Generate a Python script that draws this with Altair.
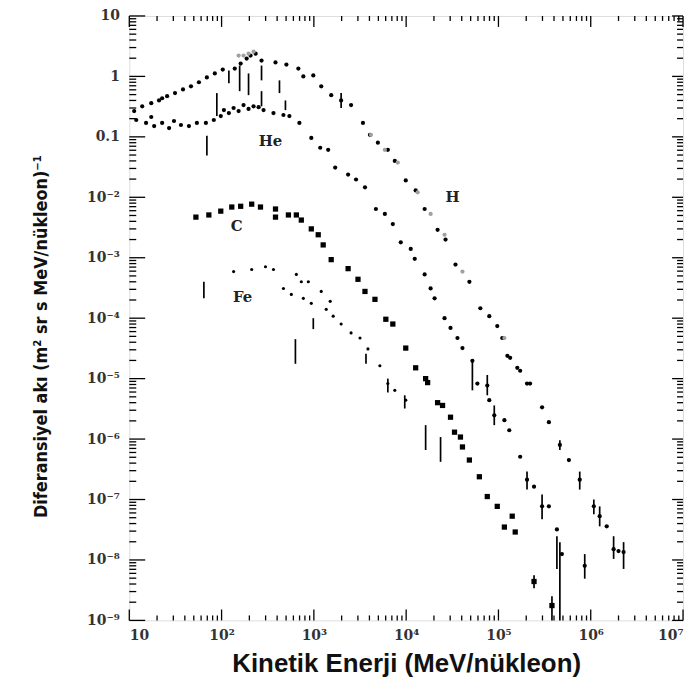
import altair as alt
import pandas as pd

# ---------------- data (energy in MeV/nucleon, flux) ----------------
h_energy = [11.3, 13.8, 17.3, 21, 22.7, 25.7, 31.3, 38.2, 46.6, 56.8, 69.3, 84.5, 103, 139, 161, 187, 206, 234,
            271, 384, 504, 679, 769, 986, 1202, 1541, 1974, 2530, 3404, 4053, 4939, 6332, 7535, 9900, 12680,
            15860, 21910, 26710, 34230, 48440, 63680, 79560, 97100, 1.10e5, 1.25e5, 1.34e5, 1.6e5, 1.72e5,
            2.04e5, 2.2e5, 2.97e5, 3.52e5, 4.63e5, 5.8e5, 7.6e5, 1.08e6, 1.25e6, 1.49e6, 1.77e6, 2.0e6, 2.27e6]
h_flux = [0.267, 0.32, 0.36, 0.40, 0.435, 0.47, 0.53, 0.61, 0.685, 0.80, 0.96, 1.12, 1.30, 1.35, 1.63, 1.97, 2.21,
          2.38, 1.83, 1.70, 1.57, 1.35, 1.0, 1.04, 0.685, 0.49, 0.40, 0.335, 0.17, 0.108, 0.080, 0.061, 0.040,
          0.019, 0.013, 0.0064, 0.0029, 0.0020, 0.00077, 0.00040, 0.000146, 0.000108, 7.4e-5, 4.7e-5, 2.38e-5,
          2.21e-5, 1.51e-5, 1.35e-5, 8.3e-6, 8.3e-6, 3.35e-6, 1.9e-6, 8.0e-7, 4.5e-7, 2.13e-7, 7.7e-8, 5.3e-8,
          3.6e-8, 1.51e-8, 1.4e-8, 1.35e-8]

h_gray_energy = [153, 173, 196, 222, 4156, 5878, 8117, 13330, 18410, 26060, 40740, 1.16e5]
h_gray_flux = [2.21, 2.21, 2.38, 2.57, 0.108, 0.061, 0.0375, 0.0121, 0.0053, 0.0024, 0.00059, 4.7e-5]

h_err_energy = [120, 157, 196, 271, 424, 1974, 4.63e5, 7.6e5, 1.08e6, 1.25e6, 1.77e6, 2.27e6]
h_err_lo = [0.77, 0.57, 0.49, 0.86, 0.53, 0.30, 6.6e-7, 1.46e-7, 5.7e-8, 3.6e-8, 1.04e-8, 7.1e-9]
h_err_hi = [1.25, 1.51, 1.12, 1.51, 0.86, 0.53, 9.6e-7, 2.9e-7, 1.0e-7, 7.7e-8, 2.47e-8, 1.97e-8]

he_energy = [11.9, 15.2, 17.3, 18.6, 22.7, 27, 30.5, 36.3, 44.3, 54, 67.6, 82.4, 98, 106, 120, 135, 153, 173, 196,
             222, 252, 285, 365, 468, 543, 697, 938, 1172, 1429, 1702, 2350, 2864, 3580, 4701, 5878, 7171, 8743,
             11210, 12390, 15860, 18410, 20330, 26060, 30250, 35970, 40740, 52200, 59100, 75700, 79560, 90100,
             1.16e5, 1.31e5, 1.72e5, 2.04e5, 2.43e5, 2.97e5, 3.52e5, 4.3e5, 4.87e5, 8.61e5]
he_flux = [0.19, 0.17, 0.213, 0.151, 0.17, 0.14, 0.183, 0.157, 0.151, 0.17, 0.17, 0.19, 0.221, 0.277, 0.247, 0.30,
           0.267, 0.335, 0.29, 0.32, 0.31, 0.277, 0.247, 0.23, 0.221, 0.17, 0.096, 0.066, 0.061, 0.031, 0.0238,
           0.0197, 0.0146, 0.0064, 0.0053, 0.0036, 0.0018, 0.0014, 0.00096, 0.00053, 0.00031, 0.000213, 1.0e-4,
           6.9e-5, 4.7e-5, 3.2e-5, 1.97e-5, 8.3e-6, 7.7e-6, 4.4e-6, 2.47e-6, 2.05e-6, 1.4e-6, 5.1e-7, 2.13e-7,
           1.63e-7, 7.7e-8, 7.7e-8, 3.2e-8, 1.25e-8, 8.0e-9]

he_err_energy = [69.3, 88.8, 271, 492, 52200, 75700, 90100, 2.04e5, 2.97e5, 4.3e5, 4.63e5, 8.61e5]
he_err_lo = [0.049, 0.221, 0.32, 0.277, 6.4e-6, 5.3e-6, 1.7e-6, 1.46e-7, 4.7e-8, 7.1e-9, 1e-9, 4.9e-9]
he_err_hi = [0.104, 0.53, 0.57, 0.40, 1.97e-5, 1.15e-5, 3.6e-6, 2.9e-7, 1.21e-7, 2.47e-8, 1.97e-8, 1.25e-8]

c_energy = [52.7, 72.8, 98, 129, 161, 212, 264, 384, 384, 530, 646, 731, 938, 1115, 1262, 1541, 2350, 3007, 3580,
            4592, 6022, 7171, 9900, 12680, 16260, 17090, 21910, 24800, 30250, 33420, 38750, 40740, 48440, 62130,
            75700, 97100, 1.16e5, 1.41e5, 1.52e5, 2.43e5, 3.8e5]
c_flux = [0.0047, 0.0051, 0.0059, 0.0069, 0.0071, 0.0077, 0.0069, 0.0064, 0.0047, 0.0051, 0.0051, 0.0042, 0.0030,
          0.0024, 0.00163, 0.00093, 0.00066, 0.00044, 0.000277, 0.000205, 9.6e-5, 8.0e-5, 3.2e-5, 1.51e-5, 1.0e-5,
          8.6e-6, 4.0e-6, 3.6e-6, 2.3e-6, 1.3e-6, 1.08e-6, 7.4e-7, 4.5e-7, 2.38e-7, 1.12e-7, 7.7e-8, 3.5e-8,
          5.3e-8, 2.9e-8, 4.4e-9, 1.76e-9]

c_err_energy = [2.43e5, 3.8e5]
c_err_lo = [3.4e-9, 1.0e-9]
c_err_hi = [5.6e-9, 2.5e-9]

fe_energy = [135, 212, 299, 365, 468, 570, 646, 731, 769, 871, 938, 1202, 1361, 1503, 1619, 1974, 2530, 3162, 3855,
             5194, 6332, 7535, 9900]
fe_flux = [0.00059, 0.00064, 0.00071, 0.00064, 0.00031, 0.000247, 0.00053, 0.00040, 0.000213, 0.00040, 0.000176,
           0.000277, 0.00014, 0.00019, 0.000108, 8.0e-5, 5.7e-5, 4.7e-5, 3.1e-5, 1.63e-5, 8.3e-6, 6.4e-6, 4.4e-6]

fe_err_energy = [64.3, 631, 986, 3670, 6332, 9655, 16260, 23600]
fe_err_lo = [0.000213, 1.76e-5, 6.6e-5, 1.76e-5, 5.9e-6, 3.2e-6, 6.6e-7, 4.2e-7]
fe_err_hi = [0.00040, 4.5e-5, 1.0e-4, 2.57e-5, 1.0e-5, 5.3e-6, 1.7e-6, 1.08e-6]

label_text = ["H", "He", "C", "Fe"]
label_energy = [31800, 339, 146, 169]
label_flux = [0.01, 0.086, 0.00335, 0.00022]

x_major = [10, 1e2, 1e3, 1e4, 1e5, 1e6, 1e7]
y_major = [1e-9, 1e-8, 1e-7, 1e-6, 1e-5, 1e-4, 1e-3, 1e-2, 0.1, 1, 10]
x_minor = [m * 10 ** k for k in range(1, 7) for m in range(2, 10)]
y_minor = [m * 10.0 ** k for k in range(-9, 1) for m in range(2, 10)]

# ---------------- tables ----------------
W, H = 557, 608
xs = alt.Scale(type="log", domain=[10, 1e7], nice=False)
ys = alt.Scale(type="log", domain=[1e-9, 10], nice=False)

df_h = pd.DataFrame({"E": h_energy, "F": h_flux})
df_hg = pd.DataFrame({"E": h_gray_energy, "F": h_gray_flux})
df_he = pd.DataFrame({"E": he_energy, "F": he_flux})
df_c = pd.DataFrame({"E": c_energy, "F": c_flux})
df_fe = pd.DataFrame({"E": fe_energy, "F": fe_flux})
df_err = pd.DataFrame({
    "E": h_err_energy + he_err_energy + c_err_energy + fe_err_energy,
    "lo": h_err_lo + he_err_lo + c_err_lo + fe_err_lo,
    "hi": h_err_hi + he_err_hi + c_err_hi + fe_err_hi,
})
df_lab = pd.DataFrame({"E": label_energy, "F": label_flux, "t": label_text})

x_label_expr = ("datum.value < 11 ? '10' : datum.value < 101 ? '10²' : datum.value < 1001 ? '10³' : "
                "datum.value < 10001 ? '10⁴' : datum.value < 100001 ? '10⁵' : datum.value < 1000001 ? '10⁶' : '10⁷'")
y_label_expr = ("datum.value > 5 ? '10' : datum.value > 0.5 ? '1' : datum.value > 0.05 ? '0.1' : "
                "datum.value > 0.005 ? '10⁻²' : datum.value > 0.0005 ? '10⁻³' : datum.value > 0.00005 ? '10⁻⁴' : "
                "datum.value > 0.000005 ? '10⁻⁵' : datum.value > 0.0000005 ? '10⁻⁶' : "
                "datum.value > 0.00000005 ? '10⁻⁷' : datum.value > 0.000000005 ? '10⁻⁸' : '10⁻⁹'")

serif = "DejaVu Serif"

base_x = alt.X("E:Q", scale=xs, axis=alt.Axis(
    values=x_major, labelExpr=x_label_expr, ticks=False, domain=False, grid=False,
    labelFont=serif, labelFontSize=14, labelFontWeight="bold", labelColor="#333", labelPadding=8,
    title="Kinetik Enerji (MeV/nükleon)", titleFont="Liberation Sans", titleFontSize=26,
    titleFontWeight="bold", titleColor="#111", titlePadding=8))
base_y = alt.Y("F:Q", scale=ys, axis=alt.Axis(
    values=y_major, labelExpr=y_label_expr, ticks=False, domain=False, grid=False,
    labelFont=serif, labelFontSize=14, labelFontWeight="bold", labelColor="#333", labelPadding=10,
    title="Diferansiyel akı (m² sr s MeV/nükleon)⁻¹",
    titleFont="DejaVu Sans Condensed, Liberation Sans Narrow, Arial Narrow, sans-serif",
    titleFontSize=18, titleFontWeight="bold", titleColor="#111", titlePadding=36, titleY=322))

pts_h = alt.Chart(df_h).mark_circle(size=18, color="black", opacity=1).encode(x=base_x, y=base_y)
pts_hg = alt.Chart(df_hg).mark_circle(size=18, color="#a0a0a0", opacity=1).encode(
    x=alt.X("E:Q", scale=xs), y=alt.Y("F:Q", scale=ys))
pts_he = alt.Chart(df_he).mark_circle(size=18, color="black", opacity=1).encode(
    x=alt.X("E:Q", scale=xs), y=alt.Y("F:Q", scale=ys))
pts_c = alt.Chart(df_c).mark_square(size=28, color="black", opacity=1).encode(
    x=alt.X("E:Q", scale=xs), y=alt.Y("F:Q", scale=ys))
pts_fe = alt.Chart(df_fe).mark_circle(size=10, color="black", opacity=1).encode(
    x=alt.X("E:Q", scale=xs), y=alt.Y("F:Q", scale=ys))
errs = alt.Chart(df_err).mark_rule(color="black", strokeWidth=1.7).encode(
    x=alt.X("E:Q", scale=xs), y=alt.Y("lo:Q", scale=ys), y2="hi:Q")
labels = alt.Chart(df_lab).mark_text(font=serif, fontSize=15, fontWeight="bold", color="#222").encode(
    x=alt.X("E:Q", scale=xs), y=alt.Y("F:Q", scale=ys), text="t:N")

# inward ticks on all four sides
def xticks(vals, length):
    d = pd.DataFrame({"v": vals})
    bottom = alt.Chart(d).mark_rule(color="black", strokeWidth=1.3).encode(
        x=alt.X("v:Q", scale=xs), y=alt.value(H), y2=alt.value(H - length))
    top = alt.Chart(d).mark_rule(color="black", strokeWidth=1.3).encode(
        x=alt.X("v:Q", scale=xs), y=alt.value(0), y2=alt.value(length))
    return [bottom, top]

def yticks(vals, length_left, length_right):
    d = pd.DataFrame({"v": vals})
    left = alt.Chart(d).mark_rule(color="black", strokeWidth=1.3).encode(
        y=alt.Y("v:Q", scale=ys), x=alt.value(0), x2=alt.value(length_left))
    right = alt.Chart(d).mark_rule(color="black", strokeWidth=1.3).encode(
        y=alt.Y("v:Q", scale=ys), x=alt.value(W), x2=alt.value(W - length_right))
    return [left, right]

tick_layers = (xticks(x_major, 11) + xticks(x_minor, 5) +
               yticks(y_major, 16, 11) + yticks(y_minor, 7, 6))

chart = alt.layer(pts_h, pts_hg, pts_he, pts_c, pts_fe, errs, labels, *tick_layers).properties(
    width=W, height=H,
    autosize=alt.AutoSizeParams(type="none"),
    padding={"left": 122, "top": 6, "right": 4, "bottom": 68},
).configure_view(stroke="black", strokeWidth=1.6).configure(background="white")

chart.save("out.html", embed_options={"renderer": "svg", "actions": False})
